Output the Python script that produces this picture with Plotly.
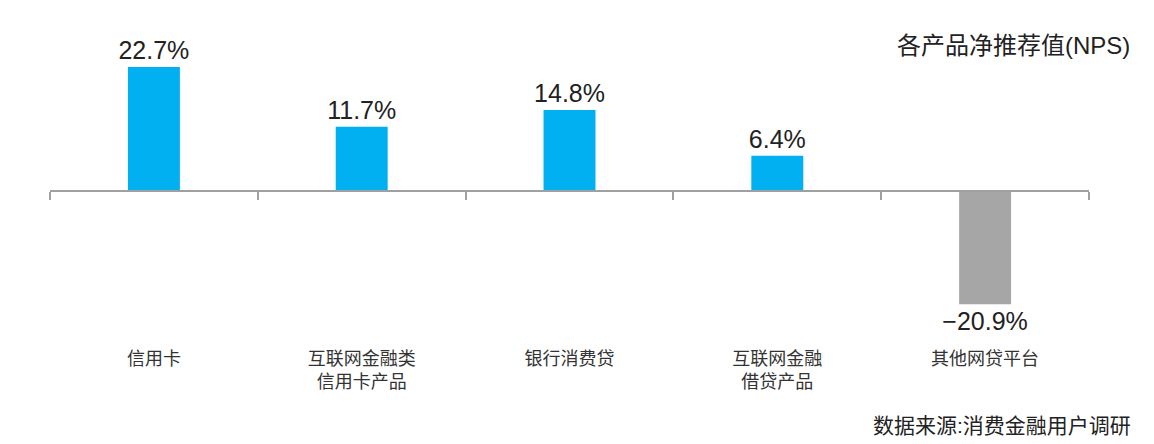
import plotly.graph_objects as go

categories = ["信用卡", "互联网金融类<br>信用卡产品", "银行消费贷", "互联网金融<br>借贷产品", "其他网贷平台"]
nps_values = [22.7, 11.7, 14.8, 6.4, -20.9]
bar_colors = ["#00B0F0", "#00B0F0", "#00B0F0", "#00B0F0", "#A6A6A6"]

FONT = "Liberation Sans, Arial, Noto Sans CJK SC, sans-serif"
W, H = 1154, 444
PAGE = 8                 # default body margin of the html page
ML, MT, MB = 50 - PAGE, 20 - PAGE, 106
MR = W - ML - (1089 - 50)
zero_px = 190.5 - PAGE   # row of the zero line inside the figure
px_per_unit = 5.44
y_max = (zero_px - MT) / px_per_unit
y_min = -((H - MB) - zero_px) / px_per_unit
zero_frac = -y_min / (y_max - y_min)
n = len(categories)

# value labels with a true minus sign, as in the original
labels = [f"{v:.1f}%".replace("-", "\u2212") for v in nps_values]

fig = go.Figure()
fig.add_trace(go.Bar(
    x=list(range(n)), y=nps_values, width=0.25,
    marker=dict(color=bar_colors, line=dict(width=0)),
    text=labels, textposition="outside", cliponaxis=False, constraintext="none",
    textfont=dict(size=25, color="#222222", family=FONT),
    hoverinfo="skip",
))
# invisible trace so the zero-line axis (x2) gets drawn
fig.add_trace(go.Scatter(x=list(range(n)), y=nps_values, xaxis="x2", mode="none",
                         hoverinfo="skip", showlegend=False))

fig.update_layout(
    width=W, height=H,
    margin=dict(l=ML, r=MR, t=MT, b=MB),
    paper_bgcolor="white", plot_bgcolor="white",
    showlegend=False,
    font=dict(family=FONT, color="#333333"),
    xaxis=dict(range=[-0.5, n - 0.5], tickvals=list(range(n)), ticktext=categories,
               showline=False, showgrid=False, zeroline=False, ticks="",
               automargin=False, tickfont=dict(size=18, color="#333333")),
    xaxis2=dict(overlaying="x", anchor="free", position=zero_frac,
                range=[-0.5, n - 0.5], tickvals=[i - 0.5 for i in range(n + 1)],
                showticklabels=False, ticks="outside", ticklen=8, tickwidth=2,
                tickcolor="#A0A0A0", showline=True, linewidth=2, linecolor="#A0A0A0",
                showgrid=False, zeroline=False, automargin=False),
    yaxis=dict(range=[y_min, y_max], visible=False, automargin=False),
)

plot_w = W - ML - MR
plot_h = H - MT - MB
bottom = H - MB
fig.add_annotation(text="各产品净推荐值(NPS)", xref="paper", yref="paper",
                   x=(1132 - PAGE - ML) / plot_w, y=(bottom - (45 - PAGE)) / plot_h,
                   xanchor="right", yanchor="middle", showarrow=False,
                   font=dict(size=24, color="#222222", family=FONT))
fig.add_annotation(text="数据来源:消费金融用户调研", xref="paper", yref="paper",
                   x=(1133 - PAGE - ML) / plot_w, y=(bottom - (425 - PAGE)) / plot_h,
                   xanchor="right", yanchor="middle", showarrow=False,
                   font=dict(size=21, color="#222222", family=FONT))

fig.write_html("out.html")
